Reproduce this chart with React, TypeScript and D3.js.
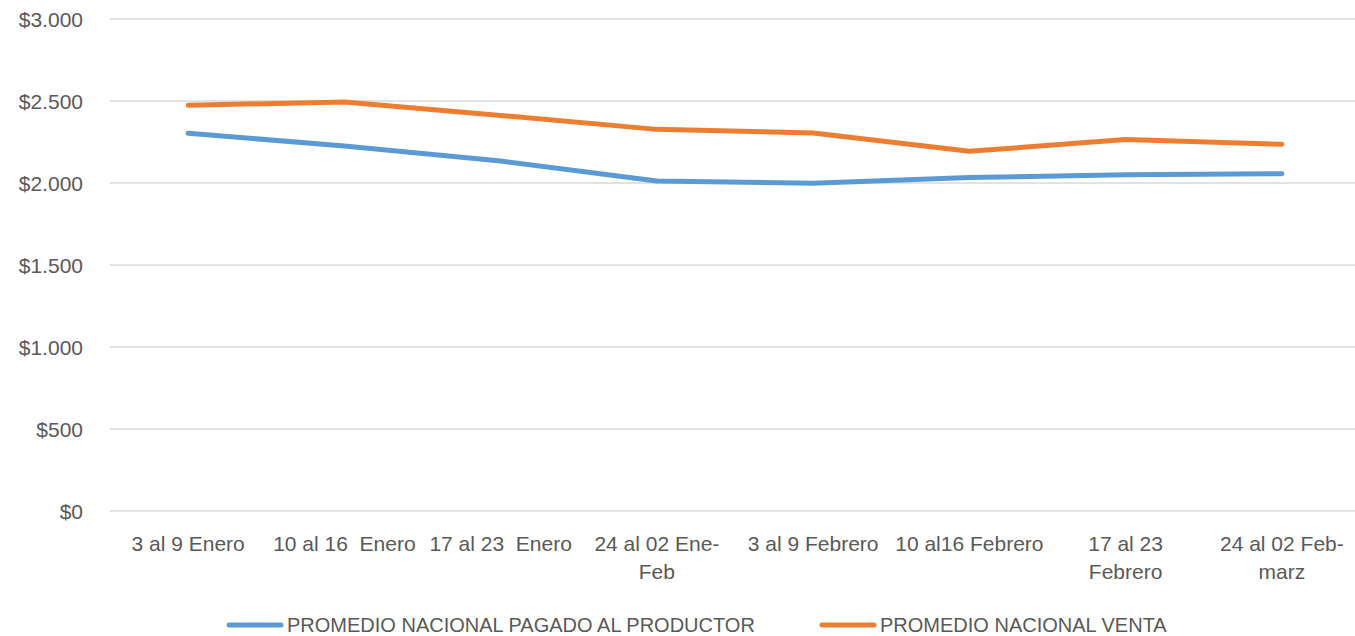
import React from "react";
import * as d3 from "d3";

const categories: string[] = [
  "3 al 9 Enero",
  "10 al 16  Enero",
  "17 al 23  Enero",
  "24 al 02 Ene-\nFeb",
  "3 al 9 Febrero",
  "10 al16 Febrero",
  "17 al 23\nFebrero",
  "24 al 02 Feb-\nmarz",
];
const productor: number[] = [2303, 2226, 2134, 2012, 1998, 2033, 2051, 2057];
const venta: number[] = [2474, 2494, 2412, 2327, 2305, 2193, 2265, 2236];
const yTicks: number[] = [0, 500, 1000, 1500, 2000, 2500, 3000];
const seriesNames: string[] = ["PROMEDIO NACIONAL PAGADO AL PRODUCTOR", "PROMEDIO NACIONAL VENTA"];

const W = 1355;
const H = 636;
const FONT = "'Liberation Sans', Arial, sans-serif";
const TEXT = "#595959";
const BLUE = "#5b9bd5";
const ORANGE = "#ed7d31";

export default function App() {
  const x = d3.scalePoint<string>().domain(categories).range([110, 1360]).padding(0.5);
  const y = d3.scaleLinear().domain([0, 3000]).range([511, 19]);
  const fmt = (v: number) => "$" + d3.format(",")(v).replace(/,/g, ".");
  const line = d3
    .line<number>()
    .x((_, i) => x(categories[i]) as number)
    .y((d) => y(d));

  return (
    <svg
      width={W}
      height={H}
      style={{ position: "absolute", left: 0, top: 0, background: "#fff" }}
      fontFamily={FONT}
    >
      {yTicks.map((t) => (
        <g key={t}>
          <line x1={110} x2={1355} y1={y(t)} y2={y(t)} stroke="#d9d9d9" strokeWidth={1.5} />
          <text x={83} y={y(t) + 7.5} textAnchor="end" fontSize={21} fill={TEXT}>
            {fmt(t)}
          </text>
        </g>
      ))}
      {categories.map((c) => (
        <text key={c} textAnchor="middle" fontSize={21} fill={TEXT} style={{ whiteSpace: "pre" }}>
          {c.split("\n").map((ln, i) => (
            <tspan key={i} x={x(c) as number} y={551 + i * 28}>
              {ln}
            </tspan>
          ))}
        </text>
      ))}
      <path d={line(productor) || ""} fill="none" stroke={BLUE} strokeWidth={5} strokeLinecap="round" strokeLinejoin="round" />
      <path d={line(venta) || ""} fill="none" stroke={ORANGE} strokeWidth={5} strokeLinecap="round" strokeLinejoin="round" />
      <g>
        <line x1={229} x2={281} y1={625} y2={625} stroke={BLUE} strokeWidth={5} strokeLinecap="round" />
        <text x={287} y={632} fontSize={20} fill={TEXT}>{seriesNames[0]}</text>
        <line x1={822} x2={874} y1={625} y2={625} stroke={ORANGE} strokeWidth={5} strokeLinecap="round" />
        <text x={880} y={632} fontSize={20} fill={TEXT}>{seriesNames[1]}</text>
      </g>
    </svg>
  );
}
